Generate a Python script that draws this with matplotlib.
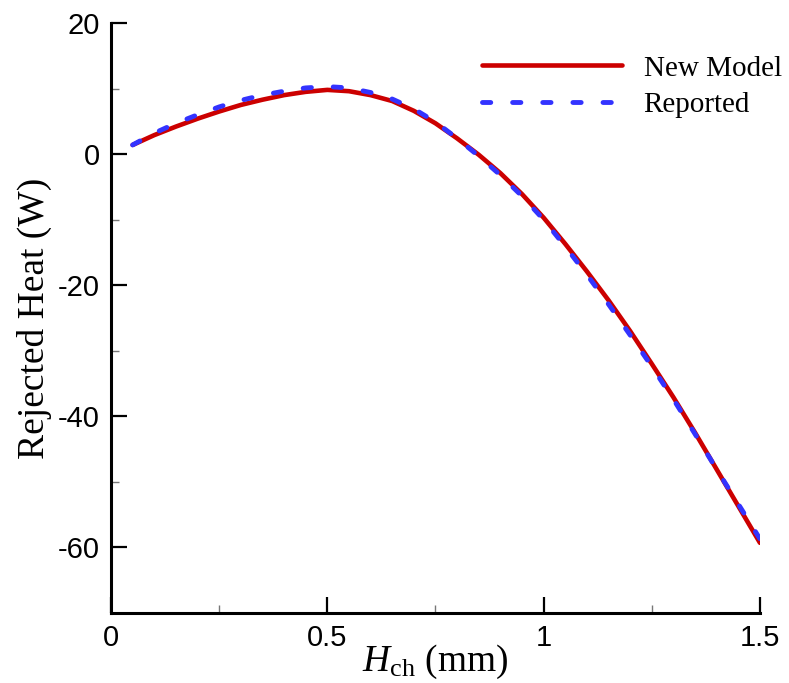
import matplotlib
matplotlib.use("Agg")
import matplotlib.pyplot as plt
from matplotlib.ticker import FixedLocator

h_ch = [0.05, 0.1, 0.15, 0.2, 0.25, 0.3, 0.35, 0.4, 0.45, 0.5, 0.55, 0.6, 0.65, 0.7, 0.75,
        0.8, 0.85, 0.9, 0.95, 1.0, 1.05, 1.1, 1.15, 1.2, 1.25, 1.3, 1.35, 1.4, 1.45, 1.5]
new_model = [1.4, 2.9, 4.2, 5.4, 6.5, 7.5, 8.3, 9.0, 9.5, 9.8, 9.6, 9.0, 8.1, 6.6, 4.7,
             2.4, -0.1, -2.9, -6.1, -9.7, -13.7, -17.9, -22.3, -27.0, -32.0, -37.1, -42.5, -48.1, -53.7, -59.3]
reported = [1.4, 3.2, 4.7, 6.0, 7.2, 8.2, 9.0, 9.6, 10.1, 10.3, 10.1, 9.4, 8.4, 6.9, 4.9,
            2.4, -0.3, -3.2, -6.4, -10.0, -14.1, -18.4, -22.9, -27.6, -32.4, -37.4, -42.7, -48.1, -53.4, -58.7]

xticks = [0, 0.5, 1, 1.5]
xticklabels = ["0", "0.5", "1", "1.5"]
yticks = [-60, -40, -20, 0, 20]
yticklabels = ["-60", "-40", "-20", "0", "20"]

plt.rcParams['mathtext.fontset'] = 'custom'
plt.rcParams['mathtext.rm'] = 'Liberation Serif'
plt.rcParams['mathtext.it'] = 'Liberation Serif:italic'

fig = plt.figure(figsize=(7.89, 6.83), dpi=100)
ax = fig.add_axes([0.1407, 0.1025, 0.9632 - 0.1407, 0.9663 - 0.1025])

ax.plot(h_ch, new_model, color="#CC0000", lw=3.3, solid_capstyle="round", label="New Model", zorder=2)
ax.plot(h_ch, reported, color="#3333FF", lw=3.5, dashes=(1.7, 4.5), dash_capstyle="round",
        label="Reported", zorder=3)

ax.set_xlim(0, 1.5)
ax.set_ylim(-70, 20)
ax.spines['top'].set_visible(False)
ax.spines['right'].set_visible(False)
ax.spines['left'].set_linewidth(2.2)
ax.spines['bottom'].set_linewidth(2.2)

ax.set_xticks(xticks)
ax.set_xticklabels(xticklabels)
ax.set_yticks(yticks)
ax.set_yticklabels(yticklabels)
ax.xaxis.set_minor_locator(FixedLocator([0.25, 0.75, 1.25]))
ax.yaxis.set_minor_locator(FixedLocator([-50, -30, -10, 10]))

ax.tick_params(which='major', direction='in', length=11.5, width=1.6, color='black',
               labelsize=21, pad=8)
ax.tick_params(which='minor', direction='in', length=6, width=1.0, color='#777777')
for lab in ax.get_xticklabels() + ax.get_yticklabels():
    lab.set_fontfamily('Liberation Sans')

ax.set_xlabel(r"$H_{\mathrm{ch}}$ (mm)", fontsize=27, fontfamily='Liberation Serif', labelpad=-7)
ax.set_ylabel("Rejected Heat (W)", fontsize=27, fontfamily='Liberation Serif', labelpad=4)

leg = ax.legend(loc='upper right', bbox_to_anchor=(1.074, 0.99), frameon=False,
                prop={'family': 'Liberation Serif', 'size': 21},
                handlelength=4.8, handletextpad=0.75, labelspacing=0.35)

fig.savefig("out.png", dpi=100)
